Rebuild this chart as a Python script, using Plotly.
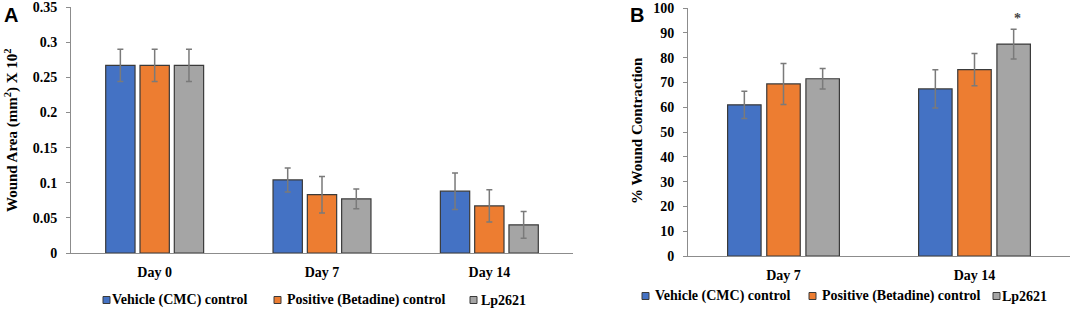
import plotly.graph_objects as go

# ---------------- data ----------------
series_names = ["Vehicle (CMC) control", "Positive (Betadine) control", "Lp2621"]
series_colors = ["#4472C4", "#ED7D31", "#A5A5A5"]

days_a = ["Day 0", "Day 7", "Day 14"]
area_vehicle = [0.267, 0.104, 0.088]
area_positive = [0.267, 0.083, 0.067]
area_lp = [0.267, 0.077, 0.040]
area_vehicle_err = [0.023, 0.017, 0.026]
area_positive_err = [0.023, 0.026, 0.023]
area_lp_err = [0.023, 0.014, 0.019]

days_b = ["Day 7", "Day 14"]
contr_vehicle = [61.0, 67.4]
contr_positive = [69.4, 75.2]
contr_lp = [71.5, 85.5]
contr_vehicle_err = [5.5, 7.7]
contr_positive_err = [8.3, 6.5]
contr_lp_err = [4.1, 6.0]

ticks_a = [0, 0.05, 0.1, 0.15, 0.2, 0.25, 0.3, 0.35]
ticklabels_a = ["0", "0.05", "0.1", "0.15", "0.2", "0.25", "0.3", "0.35"]
ticks_b = [0, 10, 20, 30, 40, 50, 60, 70, 80, 90, 100]
ticklabels_b = ["0", "10", "20", "30", "40", "50", "60", "70", "80", "90", "100"]

W, H = 1072, 309
FONT = "Liberation Serif"

fig = go.Figure()

a_vals = [area_vehicle, area_positive, area_lp]
a_errs = [area_vehicle_err, area_positive_err, area_lp_err]
b_vals = [contr_vehicle, contr_positive, contr_lp]
b_errs = [contr_vehicle_err, contr_positive_err, contr_lp_err]

for name, col, v, e in zip(series_names, series_colors, a_vals, a_errs):
    fig.add_trace(go.Bar(
        x=days_a, y=v, name=name, showlegend=False, hoverinfo="skip",
        marker=dict(color=col, line=dict(color="#3a3a3a", width=1.2)),
        error_y=dict(type="data", array=e, color="#7a7a7a", thickness=1.5, width=3),
        xaxis="x", yaxis="y"))

for name, col, v, e in zip(series_names, series_colors, b_vals, b_errs):
    fig.add_trace(go.Bar(
        x=days_b, y=v, name=name, showlegend=False, hoverinfo="skip",
        marker=dict(color=col, line=dict(color="#3a3a3a", width=1.2)),
        error_y=dict(type="data", array=e, color="#7a7a7a", thickness=1.5, width=3),
        xaxis="x2", yaxis="y2"))


def px_x(p):
    return p / W


def px_y(p):
    return 1 - p / H


def bold(labels):
    return ["<b>" + str(t) + "</b>" for t in labels]


tickfont = dict(family=FONT, size=14, color="black", weight="bold")
axis_common = dict(showgrid=False, zeroline=False, showline=True, linecolor="#8c8c8c",
                   linewidth=1, tickfont=tickfont, automargin=False, fixedrange=True)

fig.update_layout(
    width=W, height=H,
    margin=dict(l=0, r=0, t=0, b=0),
    paper_bgcolor="white", plot_bgcolor="white",
    barmode="group", bargap=0.385, bargroupgap=0.145,
    showlegend=False,
    font=dict(family=FONT, color="black"),
    xaxis=dict(domain=[px_x(71), px_x(573)], anchor="y", ticks="",
               ticklabelstandoff=6, **axis_common),
    yaxis=dict(domain=[px_y(253), px_y(7)], anchor="x", range=[0, 0.3502],
               tickvals=ticks_a, ticktext=bold(ticklabels_a), ticks="outside", ticklen=4,
               tickcolor="#8c8c8c", ticklabelstandoff=6, **axis_common),
    xaxis2=dict(domain=[px_x(688), px_x(1070)], anchor="y2", ticks="",
                ticklabelstandoff=6, **axis_common),
    yaxis2=dict(domain=[px_y(256), px_y(8)], anchor="x2", range=[0, 100.05],
                tickvals=ticks_b, ticktext=bold(ticklabels_b), ticks="outside", ticklen=4,
                tickcolor="#8c8c8c", ticklabelstandoff=6, **axis_common),
)

bold_serif = lambda s: dict(family=FONT, size=s, color="black", weight="bold")

anns = []
# axis titles
anns.append(dict(text="Wound Area (mm<sup>2</sup>) X 10<sup>2</sup>", x=px_x(11), y=px_y(130),
                 xref="paper", yref="paper", textangle=-90, showarrow=False,
                 font=bold_serif(15), xanchor="center", yanchor="middle"))
anns.append(dict(text="% Wound Contraction", x=px_x(637), y=px_y(131),
                 xref="paper", yref="paper", textangle=-90, showarrow=False,
                 font=bold_serif(15), xanchor="center", yanchor="middle"))
# panel labels
anns.append(dict(text="A", x=px_x(2), y=px_y(2), xref="paper", yref="paper",
                 showarrow=False, xanchor="left", yanchor="top",
                 font=dict(family="Liberation Sans", size=20, color="black", weight="bold")))
anns.append(dict(text="B", x=px_x(628), y=px_y(2), xref="paper", yref="paper",
                 showarrow=False, xanchor="left", yanchor="top",
                 font=dict(family="Liberation Sans", size=20, color="black", weight="bold")))
# significance asterisk
anns.append(dict(text="*", x=days_b[1], y=contr_lp[1] + contr_lp_err[1],
                 xref="x2", yref="y2", xshift=43, yshift=1, showarrow=False,
                 yanchor="bottom", font=dict(family=FONT, size=14, color="#444", weight="bold")))

# legends (manual, to reproduce tight symbol/text spacing)
shapes = []
leg_a = [(103, 110), (274, 285), (470, 479)]
leg_b = [(642, 653), (809, 820), (993, 1000)]
for legs, cy in [(leg_a, 300), (leg_b, 296)]:
    for (sq, tx), name, col in zip(legs, series_names, series_colors):
        shapes.append(dict(type="rect", xref="paper", yref="paper",
                           x0=px_x(sq), x1=px_x(sq + 7), y0=px_y(cy + 3.5), y1=px_y(cy - 3.5),
                           fillcolor=col, line=dict(color="#3a3a3a", width=1)))
        anns.append(dict(text=name, x=px_x(tx), y=px_y(cy), xref="paper",
                         yref="paper", showarrow=False, xanchor="left", yanchor="middle",
                         font=bold_serif(14)))

fig.update_layout(annotations=anns, shapes=shapes)

fig.write_html("out.html", config={"displayModeBar": False, "staticPlot": True},
               post_script="document.body.style.margin='0';document.body.style.overflow='hidden';")
